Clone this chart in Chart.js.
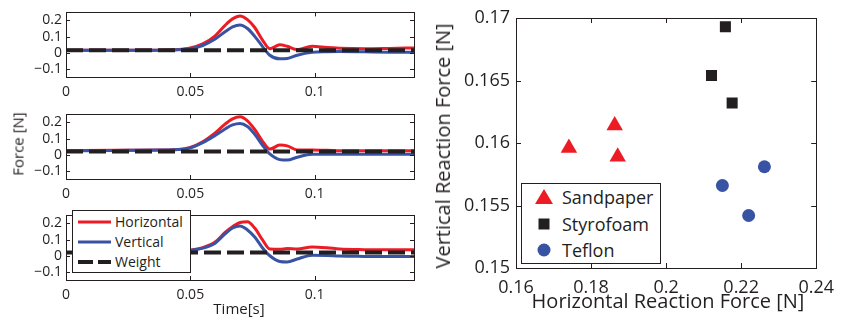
<!DOCTYPE html>
<html>
<head>
<meta charset="utf-8">
<script src="https://cdn.jsdelivr.net/npm/chart.js@4.4.1/dist/chart.umd.min.js"></script>
<style>
  body { margin: 0; background: #fff; }
  #wrap { position: relative; width: 843px; height: 321px; overflow: hidden; font-family: 'Open Sans', sans-serif; color: #231f20; }
  canvas { position: absolute; }
  .lbl { position: absolute; white-space: nowrap; transform: translate(-50%, -50%); line-height: 1; }
  .rot { transform: translate(-50%, -50%) rotate(-90deg); }
  .leg { position: absolute; background: #fff; border: 1px solid #231f20; box-sizing: border-box; }
  .item { position: absolute; left: 0; display: flex; align-items: center; line-height: 1; }
  .item svg { display: block; }
</style>
</head>
<body>
<div id="wrap">
  <canvas id="p1" width="420" height="100" style="left:0;top:0"></canvas>
  <canvas id="p2" width="420" height="100" style="left:0;top:102px"></canvas>
  <canvas id="p3" width="420" height="100" style="left:0;top:203px"></canvas>
  <canvas id="nuage" width="423" height="321" style="left:420px;top:0"></canvas>

  <div class="lbl rot" style="left:18px;top:144px;font-size:15px">Force [N]</div>
  <div class="lbl" style="left:239px;top:308px;font-size:15px">Time[s]</div>
  <div class="lbl rot" style="left:443px;top:146px;font-size:20px">Vertical Reaction Force [N]</div>
  <div class="lbl" style="left:668px;top:301px;font-size:20px">Horizontal Reaction Force [N]</div>

  <!-- légende des courbes -->
  <div class="leg" style="left:72px;top:210px;width:119px;height:63px;font-size:14px">
    <div class="item" style="top:4px;left:5px">
      <svg width="34" height="6"><line x1="0" y1="3" x2="33" y2="3" stroke="#ed1c24" stroke-width="3"/></svg>
      <span style="margin-left:3px">Horizontal</span>
    </div>
    <div class="item" style="top:24px;left:5px">
      <svg width="34" height="6"><line x1="0" y1="3" x2="33" y2="3" stroke="#3953a4" stroke-width="3"/></svg>
      <span style="margin-left:3px">Vertical</span>
    </div>
    <div class="item" style="top:44px;left:5px">
      <svg width="34" height="6"><line x1="0" y1="3" x2="33" y2="3" stroke="#231f20" stroke-width="4" stroke-dasharray="15 5"/></svg>
      <span style="margin-left:3px">Weight</span>
    </div>
  </div>

  <!-- légende du nuage -->
  <div class="leg" style="left:521px;top:183px;width:140px;height:81px;font-size:18px">
    <div class="item" style="top:3px;left:11px">
      <svg width="22" height="20"><polygon points="11,2 20,17 2,17" fill="#ed1c24"/></svg>
      <span style="margin-left:7px">Sandpaper</span>
    </div>
    <div class="item" style="top:30px;left:11px">
      <svg width="22" height="20"><rect x="5.5" y="4.5" width="11" height="11" fill="#231f20"/></svg>
      <span style="margin-left:7px">Styrofoam</span>
    </div>
    <div class="item" style="top:56px;left:11px">
      <svg width="22" height="20"><circle cx="11" cy="10" r="6.5" fill="#3953a4"/></svg>
      <span style="margin-left:7px">Teflon</span>
    </div>
  </div>
</div>

<script>
// ---- DONNÉES : panneaux de gauche ----
const temps = [0, 0.02, 0.04, 0.045, 0.05, 0.055, 0.06, 0.064, 0.067, 0.07, 0.073, 0.076, 0.079, 0.082, 0.086, 0.089, 0.093, 0.099, 0.105, 0.11, 0.12, 0.13, 0.14]

const horiz1 = [0.015, 0.015, 0.017, 0.02, 0.03, 0.055, 0.105, 0.17, 0.21, 0.228, 0.205, 0.155, 0.08, 0.025, 0.05, 0.04, 0.02, 0.04, 0.032, 0.028, 0.025, 0.027, 0.03]
const vert1 = [0.015, 0.015, 0.016, 0.018, 0.025, 0.045, 0.085, 0.13, 0.16, 0.172, 0.15, 0.1, 0.04, -0.015, -0.037, -0.035, -0.015, 0.003, 0.007, 0.008, 0.006, 0.004, 0.003]

const horiz2 = [0.025, 0.028, 0.03, 0.032, 0.045, 0.08, 0.135, 0.19, 0.222, 0.235, 0.21, 0.155, 0.085, 0.035, 0.06, 0.055, 0.03, 0.03, 0.028, 0.025, 0.025, 0.025, 0.025]
const vert2 = [0.025, 0.027, 0.03, 0.032, 0.043, 0.075, 0.12, 0.16, 0.185, 0.194, 0.175, 0.125, 0.06, 0.005, -0.03, -0.033, -0.015, 0.003, 0.004, 0.003, 0.003, 0.004, 0.004]

const horiz3 = [0.02, 0.02, 0.022, 0.025, 0.035, 0.05, 0.085, 0.145, 0.18, 0.206, 0.21, 0.17, 0.1, 0.042, 0.04, 0.045, 0.042, 0.055, 0.05, 0.042, 0.038, 0.037, 0.037]
const vert3 = [0.02, 0.02, 0.022, 0.024, 0.033, 0.047, 0.078, 0.135, 0.172, 0.185, 0.16, 0.115, 0.05, 0.0, -0.035, -0.038, -0.02, 0.004, 0.002, -0.002, -0.004, -0.005, -0.005]

const poids = [0.015, 0.02, 0.02]

const tempsTicks = [0, 0.05, 0.1]
const forceTicks = [-0.1, 0, 0.1, 0.2]

// ---- DONNÉES : nuage de points ----
const sableX = [0.1741, 0.1863, 0.1871]
const sableY = [0.1596, 0.1614, 0.1589]
const styroX = [0.2158, 0.2121, 0.2176]
const styroY = [0.1693, 0.1654, 0.1632]
const teflonX = [0.2262, 0.2150, 0.2220]
const teflonY = [0.1581, 0.1566, 0.1542]

const horizTicks = [0.16, 0.18, 0.2, 0.22, 0.24]
const vertTicks = [0.15, 0.155, 0.16, 0.165, 0.17]

const ROUGE = '#ed1c24'
const BLEU = '#3953a4'
const NOIR = '#231f20'
const POLICE = "'Open Sans', sans-serif"

// cadre + graduations vers l'intérieur (style matlab)
const cadre = {
  id: 'cadre',
  afterDraw(chart, args, opts) {
    const { ctx, chartArea: a, scales } = chart
    const len = opts.len || 4
    ctx.save()
    ctx.strokeStyle = NOIR
    ctx.lineWidth = 1
    ctx.beginPath()
    scales.x.ticks.forEach(t => {
      const px = Math.round(scales.x.getPixelForValue(t.value)) + 0.5
      ctx.moveTo(px, a.bottom); ctx.lineTo(px, a.bottom - len)
      ctx.moveTo(px, a.top); ctx.lineTo(px, a.top + len)
    })
    scales.y.ticks.forEach(t => {
      const py = Math.round(scales.y.getPixelForValue(t.value)) + 0.5
      ctx.moveTo(a.left, py); ctx.lineTo(a.left + len, py)
      ctx.moveTo(a.right, py); ctx.lineTo(a.right - len, py)
    })
    ctx.stroke()
    ctx.strokeRect(Math.round(a.left) + 0.5, Math.round(a.top) + 0.5, Math.round(a.right - a.left), Math.round(a.bottom - a.top))
    ctx.restore()
  }
}

const fmt = v => v < 0 ? '\u2212' + String(Math.abs(v)) : String(v)

function panneau(id, rouge, bleu, w) {
  const pts = arr => temps.map((t, i) => ({ x: t, y: arr[i] }))
  new Chart(document.getElementById(id), {
    type: 'line',
    data: {
      datasets: [
        { data: [{ x: 0, y: w }, { x: 0.14, y: w }], borderColor: NOIR, borderWidth: 4, borderDash: [17, 6], pointRadius: 0, order: 0 },
        { data: pts(bleu), borderColor: BLEU, borderWidth: 3, pointRadius: 0, cubicInterpolationMode: 'monotone', order: 1 },
        { data: pts(rouge), borderColor: ROUGE, borderWidth: 3, pointRadius: 0, cubicInterpolationMode: 'monotone', order: 2 }
      ]
    },
    options: {
      responsive: false,
      animation: false,
      devicePixelRatio: 1,
      layout: { padding: { top: 6, right: 6, left: 0, bottom: 0 } },
      plugins: { legend: { display: false }, tooltip: { enabled: false }, cadre: { len: 4 } },
      scales: {
        x: {
          type: 'linear', min: 0, max: 0.14,
          afterBuildTicks: s => { s.ticks = tempsTicks.map(v => ({ value: v })) },
          afterFit: s => { s.height = 23 },
          grid: { display: false, drawTicks: false },
          border: { display: false },
          ticks: { callback: fmt, color: NOIR, font: { family: POLICE, size: 14 }, padding: 7, maxRotation: 0 }
        },
        y: {
          min: -0.15, max: 0.25,
          afterBuildTicks: s => { s.ticks = forceTicks.map(v => ({ value: v })) },
          afterFit: s => { s.width = 66 },
          grid: { display: false, drawTicks: false },
          border: { display: false },
          ticks: { callback: fmt, color: NOIR, font: { family: POLICE, size: 14 }, padding: 4 }
        }
      }
    },
    plugins: [cadre]
  })
}

panneau('p1', horiz1, vert1, poids[0])
panneau('p2', horiz2, vert2, poids[1])
panneau('p3', horiz3, vert3, poids[2])

// ---- NUAGE DE POINTS ----
const pts2 = (xs, ys) => xs.map((x, i) => ({ x: x, y: ys[i] }))

new Chart(document.getElementById('nuage'), {
  type: 'scatter',
  data: {
    datasets: [
      { label: 'Sandpaper', data: pts2(sableX, sableY), pointStyle: 'triangle', pointRadius: 9.5, backgroundColor: ROUGE, borderWidth: 0 },
      { label: 'Styrofoam', data: pts2(styroX, styroY), pointStyle: 'rect', pointRadius: 7.8, backgroundColor: NOIR, borderWidth: 0 },
      { label: 'Teflon', data: pts2(teflonX, teflonY), pointStyle: 'circle', pointRadius: 6.5, backgroundColor: BLEU, borderWidth: 0 }
    ]
  },
  options: {
    responsive: false,
    animation: false,
    devicePixelRatio: 1,
    layout: { padding: { top: 18, right: 20, left: 0, bottom: 0 } },
    plugins: { legend: { display: false }, tooltip: { enabled: false }, cadre: { len: 5 } },
    scales: {
      x: {
        type: 'linear', min: 0.16, max: 0.24,
        afterBuildTicks: s => { s.ticks = horizTicks.map(v => ({ value: v })) },
        afterFit: s => { s.height = 53 },
        grid: { display: false, drawTicks: false },
        border: { display: false },
        ticks: { callback: fmt, color: NOIR, font: { family: POLICE, size: 18 }, padding: 9, maxRotation: 0 }
      },
      y: {
        min: 0.15, max: 0.17,
        afterBuildTicks: s => { s.ticks = vertTicks.map(v => ({ value: v })) },
        afterFit: s => { s.width = 96 },
        grid: { display: false, drawTicks: false },
        border: { display: false },
        ticks: { callback: fmt, color: NOIR, font: { family: POLICE, size: 18 }, padding: 6 }
      }
    }
  },
  plugins: [cadre]
})
</script>
</body>
</html>
